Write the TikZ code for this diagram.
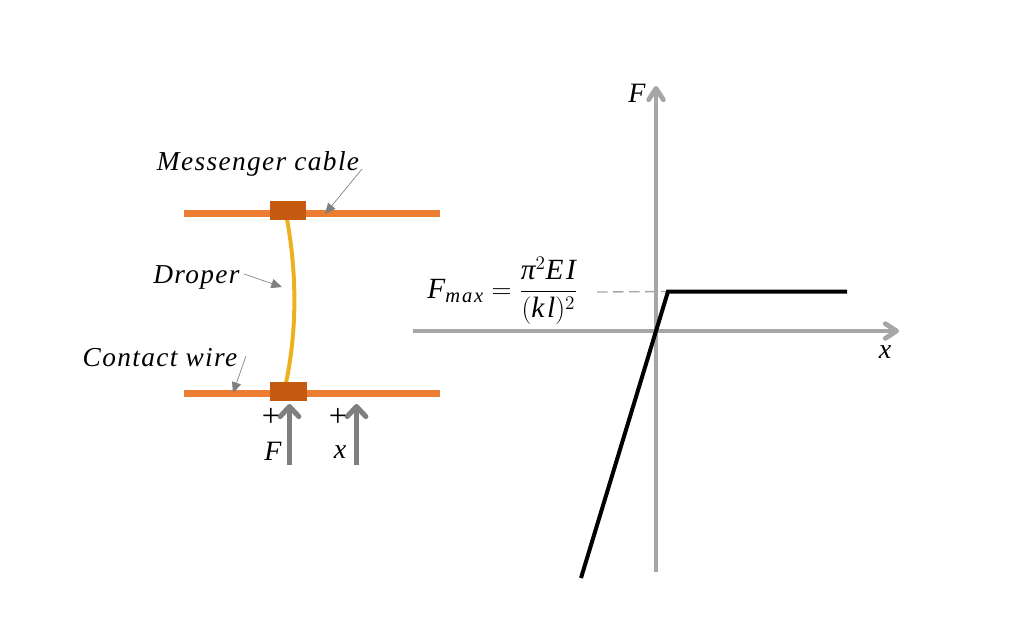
\documentclass[tikz,border=0pt]{standalone}
\usepackage{fontspec}
\usepackage{amsmath}
\usetikzlibrary{arrows.meta}
\newfontfamily\labfont[LetterSpace=5]{Liberation Serif}
\newfontfamily\symfont{Liberation Serif}
\newfontfamily\eqfont[LetterSpace=9]{Liberation Serif}
\definecolor{wirecol}{HTML}{ED7D31}
\definecolor{clampcol}{HTML}{C55A11}
\definecolor{dropcol}{HTML}{EFB020}
\definecolor{arrowcol}{HTML}{7F7F7F}
\definecolor{axiscol}{HTML}{A6A6A6}
\newcommand{\mysym}[1]{\text{\eqfont\itshape #1}}
\tikzset{
  wire/.style={draw=wirecol,line width=5.2pt},
  clamp/.style={fill=clampcol,draw=none,minimum width=27pt,minimum height=14.5pt,inner sep=0pt},
  lab/.style={inner sep=0pt,font=\fontsize{20.5}{23}\selectfont\labfont\itshape},
  sym/.style={inner sep=0pt,font=\fontsize{21}{24}\selectfont\symfont\itshape},
  plus/.style={inner sep=0pt,font=\fontsize{24}{26}\selectfont\symfont},
  leader/.style={draw=arrowcol,line width=0.5pt,-{Triangle[length=8pt,width=7pt,fill=arrowcol]}},
  force/.style={draw=arrowcol,line width=3.6pt,-{Straight Barb[length=7.5pt,width=14pt,line width=3.8pt,round]}},
  axis/.style={draw=axiscol,line width=3.3pt,-{Straight Barb[length=8.5pt,width=11pt,line width=3.6pt,round]}},
}
\begin{document}
\begin{tikzpicture}[x=0.75pt,y=-0.75pt]
\useasboundingbox (0,0) rectangle (1024,640);
% wires
\coordinate (tl) at (184,213.5); \coordinate (tr) at (440,213.5);
\coordinate (bl) at (184,393.5); \coordinate (br) at (440,393.5);
\draw[wire] (tl) -- (tr);
\draw[wire] (bl) -- (br);
% droper
\coordinate (dt) at (287,219);
\coordinate (db) at (286,383);
\draw[dropcol,line width=3pt] (dt) .. controls (297,275) and (297,330) .. (db);
\node[clamp] (ct) at (287.5,210.5) {};
\node[clamp,minimum width=27.5pt] (cb) at (288.5,391.5) {};
% labels and leaders
\node[lab] (mc) at (258,164) {Messenger cable};
\node[lab] (dr) at (196.5,277) {Droper};
\node[lab] (cw) at (160,358) {Contact wire};
\coordinate (mc1) at (362,169); \coordinate (mc2) at (325,214);
\coordinate (dr1) at (244,274); \coordinate (dr2) at (282,287);
\coordinate (cw1) at (246,356); \coordinate (cw2) at (233,393);
\draw[leader] (mc1) -- (mc2);
\draw[leader] (dr1) -- (dr2);
\draw[leader] (cw1) -- (cw2);
% force arrows
\coordinate (fa) at (289.5,465); \coordinate (fb) at (289.5,404);
\coordinate (xa) at (356.5,465); \coordinate (xb) at (356.5,404);
\draw[force] (fa) -- (fb);
\draw[force] (xa) -- (xb);
\node[plus] (p1) at (271,417) {+};
\node[plus] (p2) at (338,417) {+};
\node[sym] (lf) at (273,451) {F};
\node[sym] (lx) at (340,452) {x};
% graph
\coordinate (xl) at (413,331); \coordinate (xr) at (899,331);
\coordinate (yb) at (656,572); \coordinate (yt) at (656,86);
\draw[axis] (xl) -- (xr);
\draw[axis] (yb) -- (yt);
\coordinate (g1) at (581,578); \coordinate (g2) at (668,291.5); \coordinate (g3) at (847,291.5);
\coordinate (d0) at (597,292);
\draw[axiscol,line width=1pt,dash pattern=on 8pt off 4pt] (d0) -- (g2);
\draw[black,line width=3pt] (g1) -- (g2) -- (g3);
\node[sym] (ff) at (637,93) {F};
\node[sym] (fx) at (885,352) {x};
\node[inner sep=0pt,font=\fontsize{22}{25}\selectfont] (fm) at (502.5,291) {$\mysym{F}_{\mysym{max}}=\dfrac{\mysym{π}^{2}\mysym{EI}}{(\mysym{kl})^{2}}$};
\end{tikzpicture}
\end{document}
